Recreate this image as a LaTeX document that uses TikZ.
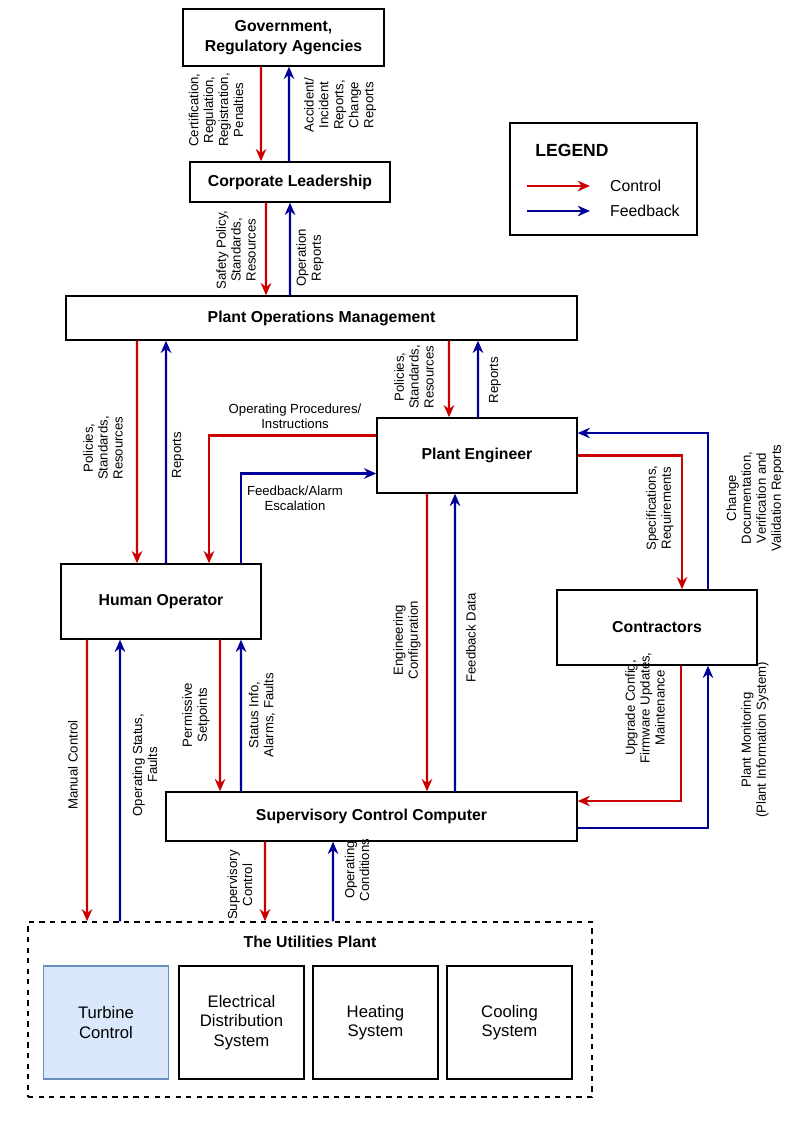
\documentclass[tikz,border=0pt]{standalone}
\usepackage{fontspec}
\setmainfont{Liberation Sans}
\usetikzlibrary{arrows.meta}
\definecolor{ctlred}{RGB}{204,0,0}
\definecolor{fbblue}{RGB}{0,0,153}
\definecolor{turbfill}{RGB}{218,232,252}
\definecolor{turbline}{RGB}{108,142,191}

\begin{document}
\begin{tikzpicture}[x=0.02cm,y=-0.02cm,
  box/.style={draw, thick, font=\fontsize{9}{11}\selectfont\bfseries, align=center, inner sep=2pt},
  subbox/.style={draw, thick, font=\fontsize{9.5}{11}\selectfont, align=center, minimum width=2.5cm, minimum height=2.26cm},
  ctl/.style={ctlred, line width=1.2pt, -{Stealth[length=7pt,width=6pt]}},
  fb/.style={fbblue, line width=1.2pt, -{Stealth[length=7pt,width=6pt]}},
  lbl/.style={font=\fontsize{7.5}{8.5}\selectfont, align=center, inner sep=1pt},
  vlbl/.style={lbl, rotate=90}]
\useasboundingbox (0,0) rectangle (800,1124);

% boxes
\node[box, minimum width=4.02cm, minimum height=1.14cm] (gov) at (283.5,37.5) {Government,\\Regulatory Agencies};
\node[box, minimum width=4cm, minimum height=0.8cm] (corp) at (290,182) {Corporate Leadership};
\node[box, minimum width=10.22cm, minimum height=0.88cm] (ops) at (321.5,318) {Plant Operations Management};
\node[box, minimum width=4cm, minimum height=1.5cm] (pe) at (477,455.5) {Plant Engineer};
\node[box, minimum width=4cm, minimum height=1.5cm] (ho) at (161,601.5) {Human Operator};
\node[box, minimum width=4cm, minimum height=1.5cm] (con) at (657,627.5) {Contractors};
\node[box, minimum width=8.22cm, minimum height=0.98cm] (scc) at (371.5,816.5) {Supervisory Control Computer};
\node[draw, dashed, thick, minimum width=11.28cm, minimum height=3.5cm] (plant) at (310,1009.5) {};
\node[font=\fontsize{9}{11}\selectfont\bfseries] (plantlbl) at (310,942) {The Utilities Plant};
\node[subbox, fill=turbfill, draw=turbline] (turb) at (106,1022.5) {Turbine\\Control};
\node[subbox] (elec) at (241.5,1022.5) {Electrical\\Distribution\\System};
\node[subbox] (heat) at (375.5,1022.5) {Heating\\System};
\node[subbox] (cool) at (509.5,1022.5) {Cooling\\System};

% legend
\node[draw, thick, minimum width=3.74cm, minimum height=2.24cm] (legend) at (603.5,179) {};
\node[font=\fontsize{10}{12}\selectfont\bfseries] (legtitle) at (572,150) {LEGEND};
\coordinate (lc1) at (527,186); \coordinate (lc2) at (590,186);
\coordinate (lf1) at (527,211); \coordinate (lf2) at (590,211);
\draw[ctl] (lc1) -- (lc2);
\draw[fb] (lf1) -- (lf2);
\node[font=\fontsize{9}{11}\selectfont, anchor=west] (legc) at (604,186) {Control};
\node[font=\fontsize{9}{11}\selectfont, anchor=west] (legf) at (604,211) {Feedback};

% control / feedback arrows
\draw[ctl] ([xshift=-0.45cm]gov.south) -- ([xshift=-0.58cm]corp.north);
\draw[fb] ([xshift=-0.02cm]corp.north) -- ([xshift=0.11cm]gov.south);
\draw[ctl] ([xshift=-0.48cm]corp.south) -- ([xshift=-1.11cm]ops.north);
\draw[fb] ([xshift=-0.63cm]ops.north) -- (corp.south);
\draw[ctl] ([xshift=-3.69cm]ops.south) -- ([xshift=-0.48cm]ho.north);
\draw[fb] ([xshift=0.1cm]ho.north) -- ([xshift=-3.11cm]ops.south);
\draw[ctl] ([xshift=2.55cm]ops.south) -- ([xshift=-0.56cm]pe.north);
\draw[fb] ([xshift=0.02cm]pe.north) -- ([xshift=3.13cm]ops.south);
\draw[ctl] ([yshift=0.4cm]pe.west) -| ([xshift=0.96cm]ho.north);
\draw[fb] ([xshift=1.6cm]ho.north) |- ([yshift=-0.36cm]pe.west);
\draw[ctl] ([xshift=-1cm]pe.south) -- ([xshift=1.11cm]scc.north);
\draw[fb] ([xshift=1.67cm]scc.north) -- ([xshift=-0.44cm]pe.south);
\draw[ctl] (pe.east) -| ([xshift=0.5cm]con.north);
\draw[fb] ([xshift=1.02cm]con.north) |- ([yshift=0.45cm]pe.east);
\draw[ctl] ([xshift=0.48cm]con.south) |- ([yshift=0.31cm]scc.east);
\draw[fb] ([yshift=-0.23cm]scc.east) -| ([xshift=1.02cm]con.south);
\draw[ctl] ([xshift=1.18cm]ho.south) -- ([xshift=-3.03cm]scc.north);
\draw[fb] ([xshift=-2.61cm]scc.north) -- ([xshift=1.6cm]ho.south);
\draw[ctl] ([xshift=-1.48cm]ho.south) -- ([xshift=-4.46cm]plant.north);
\draw[fb] ([xshift=-3.8cm]plant.north) -- ([xshift=-0.82cm]ho.south);
\draw[ctl] ([xshift=-2.13cm]scc.south) -- ([xshift=-0.9cm]plant.north);
\draw[fb] ([xshift=0.46cm]plant.north) -- ([xshift=-0.77cm]scc.south);

% labels
\node[vlbl] (l1) at (216,110) {Certification,\\Regulation,\\Registration,\\Penalties};
\node[vlbl] (l2) at (340,105) {Accident/\\Incident\\Reports,\\Change\\Reports};
\node[vlbl] (l3) at (236,250) {Safety Policy,\\Standards,\\Resources};
\node[vlbl] (l4) at (310,258) {Operation\\Reports};
\node[vlbl] (l5) at (103,448) {Policies,\\Standards,\\Resources};
\node[vlbl] (l6) at (178,455) {Reports};
\node[vlbl] (l7) at (414,377) {Policies,\\Standards,\\Resources};
\node[vlbl] (l8) at (495,380) {Reports};
\node[lbl] (l9) at (295,416) {Operating Procedures/\\Instructions};
\node[lbl] (l10) at (295,498) {Feedback/Alarm\\Escalation};
\node[vlbl] (l11) at (407,640) {Engineering\\Configuration};
\node[vlbl] (l12) at (471,638) {Feedback Data};
\node[vlbl] (l13) at (660,508) {Specifications,\\Requirements};
\node[vlbl] (l14) at (755,498) {Change\\Documentation,\\Verification and\\Validation Reports};
\node[vlbl] (l15) at (645,708) {Upgrade Config,\\Firmware Updates,\\Maintenance};
\node[vlbl] (l16) at (755,740) {Plant Monitoring\\(Plant Information System)};
\node[vlbl] (l17) at (196,715) {Permissive\\Setpoints};
\node[vlbl] (l18) at (262,715) {Status Info,\\Alarms, Faults};
\node[vlbl] (l19) at (73,765) {Manual Control};
\node[vlbl] (l20) at (145,765) {Operating Status,\\Faults};
\node[vlbl] (l21) at (240,885) {Supervisory\\Control};
\node[vlbl] (l22) at (357,870) {Operating\\Conditions};
\end{tikzpicture}
\end{document}
